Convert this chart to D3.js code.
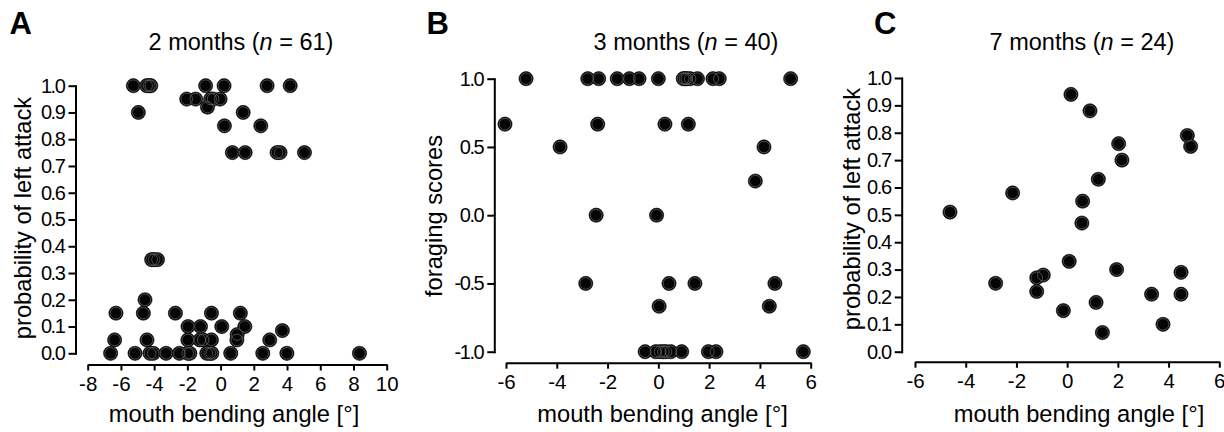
<!DOCTYPE html>
<html>
<head>
<meta charset="utf-8">
<script src="https://cdn.jsdelivr.net/npm/d3@7"></script>
<style>
  html, body { margin: 0; padding: 0; background: #fff; }
  svg { display: block; font-family: "Liberation Sans", Arial, sans-serif; }
  .tick line, .domain { stroke: #000; stroke-width: 2px; }
  .tick text { fill: #000; }
</style>
</head>
<body>
<svg id="chart" width="1224" height="432"></svg>
<script>
// ---------- DATA ----------
const panelLabels = ["A", "B", "C"];
const panelTitles = ["2 months", "3 months", "7 months"];
const panelN = [61, 40, 24];
const xTitle = "mouth bending angle [°]";
const yTitles = ["probability of left attack", "foraging scores", "probability of left attack"];

const xTicksA = [-8, -6, -4, -2, 0, 2, 4, 6, 8, 10];
const yTicksA = [0, 0.1, 0.2, 0.3, 0.4, 0.5, 0.6, 0.7, 0.8, 0.9, 1.0];
const xTicksB = [-6, -4, -2, 0, 2, 4, 6];
const yTicksB = [-1, -0.5, 0, 0.5, 1];
const xTicksC = [-6, -4, -2, 0, 2, 4, 6];
const yTicksC = [0, 0.1, 0.2, 0.3, 0.4, 0.5, 0.6, 0.7, 0.8, 0.9, 1.0];

// Panel A: 2 months (n = 61)
const angleA = [
  -5.25, -4.45, -4.3, -4.2, -0.9, 0.21, 2.8, 4.19,
  -2.04, -1.5, -0.6, -0.45, -0.03,
  -0.79,
  -4.95, 1.36,
  0.23, 2.42,
  0.71, 1.48, 3.4, 3.58, 5.05,
  -4.15, -4.0, -3.8,
  -4.55,
  -6.3, -4.65, -2.72, -0.55, 1.19,
  -1.96, -1.21, 0.07, 1.46,
  3.72,
  1.0,
  -6.38, -4.43, -1.97, -1.25, -1.05, -0.55, 0.98, 2.96,
  -6.62, -5.15, -4.25, -4.05, -3.28, -2.48, -1.98, -1.85, -0.83, -0.65, -0.53, 0.61, 2.54, 3.99, 8.36
];
const probA = [
  1, 1, 1, 1, 1, 1, 1, 1,
  0.95, 0.95, 0.95, 0.95, 0.95,
  0.92,
  0.9, 0.9,
  0.85, 0.85,
  0.75, 0.75, 0.75, 0.75, 0.75,
  0.35, 0.35, 0.35,
  0.2,
  0.15, 0.15, 0.15, 0.15, 0.15,
  0.1, 0.1, 0.1, 0.1,
  0.085,
  0.07,
  0.05, 0.05, 0.05, 0.05, 0.05, 0.05, 0.05, 0.05,
  0, 0, 0, 0, 0, 0, 0, 0, 0, 0, 0, 0, 0, 0, 0
];

// Panel B: 3 months (n = 40)
const angleB = [
  -5.21, -2.78, -2.35, -1.62, -1.14, -0.76, 0.0, 0.98, 1.05, 1.12, 1.25, 1.54, 2.15, 2.40, 5.21,
  -6.04, -2.39, 0.26, 1.18,
  -3.87, 4.16,
  3.82,
  -2.45, -0.07,
  -2.86, 0.42, 1.44, 4.59,
  0.03, 4.37,
  -0.52, -0.10, 0.07, 0.20, 0.30, 0.49, 0.92, 1.97, 2.27, 5.71
];
const scoreB = [
  1, 1, 1, 1, 1, 1, 1, 1, 1, 1, 1, 1, 1, 1, 1,
  0.667, 0.667, 0.667, 0.667,
  0.5, 0.5,
  0.25,
  0, 0,
  -0.5, -0.5, -0.5, -0.5,
  -0.667, -0.667,
  -1, -1, -1, -1, -1, -1, -1, -1, -1, -1
];

// Panel C: 7 months (n = 24)
const angleC = [0.15, 0.90, 2.03, 2.16, 4.74, 4.87, 1.23, -2.15, -4.62, 0.61, 0.58, 0.08,
  1.95, 4.49, -2.82, -1.20, -0.94, -1.20, 1.14, -0.15, 3.33, 4.49, 3.78, 1.39];
const probC = [0.94, 0.88, 0.76, 0.70, 0.79, 0.75, 0.63, 0.58, 0.51, 0.55, 0.47, 0.33,
  0.30, 0.29, 0.25, 0.27, 0.28, 0.22, 0.18, 0.15, 0.21, 0.21, 0.10, 0.07];

// ---------- LAYOUT ----------
const svg = d3.select("#chart");

const panels = [
  { xs: angleA, ys: probA, xTicks: xTicksA, yTicks: yTicksA,
    xDom: [-8, 10], xRange: [87.7, 386.7], yDom: [0, 1], yRange: [353.3, 85.7],
    xAxisY: 364.5, yAxisX: 75.5,
    label: [9.5, 34], titleX: 241, yTitleX: 31, yTitleY: 218, xTitleX: 234 },
  { xs: angleB, ys: scoreB, xTicks: xTicksB, yTicks: yTicksB,
    xDom: [-6, 6], xRange: [506, 810.7], yDom: [-1, 1], yRange: [351.7, 78.7],
    xAxisY: 362.7, yAxisX: 494.3,
    label: [426.5, 34], titleX: 686, yTitleX: 441.5, yTitleY: 216, xTitleX: 662.5 },
  { xs: angleC, ys: probC, xTicks: xTicksC, yTicks: yTicksC,
    xDom: [-6, 6], xRange: [915, 1219.3], yDom: [0, 1], yRange: [351.7, 78],
    xAxisY: 361.7, yAxisX: 901.7,
    label: [874, 34], titleX: 1082, yTitleX: 860, yTitleY: 209, xTitleX: 1079 }
];

panels.forEach((p, i) => {
  const x = d3.scaleLinear().domain(p.xDom).range(p.xRange);
  const y = d3.scaleLinear().domain(p.yDom).range(p.yRange);
  const g = svg.append("g");

  // x axis
  const xa = g.append("g").attr("transform", `translate(0,${p.xAxisY})`)
    .call(d3.axisBottom(x).tickValues(p.xTicks).tickSize(6).tickSizeOuter(0).tickPadding(6)
      .tickFormat(d => String(d)));
  xa.selectAll("text").attr("font-size", 20.5).attr("font-family", "Liberation Sans, Arial, sans-serif");

  // y axis
  const ya = g.append("g").attr("transform", `translate(${p.yAxisX},0)`)
    .call(d3.axisLeft(y).tickValues(p.yTicks).tickSize(6).tickSizeOuter(0).tickPadding(5)
      .tickFormat(d => d.toFixed(1)));
  ya.selectAll("text").attr("font-size", 20).attr("letter-spacing", "-1.4px")
    .attr("font-family", "Liberation Sans, Arial, sans-serif");
  ya.selectAll(".domain, .tick line").attr("stroke-linecap", "square");

  // points
  const pts = p.xs.map((v, k) => [v, p.ys[k]]);
  const dots = g.append("g");
  dots.selectAll("circle.o").data(pts).join("circle").attr("class", "o")
    .attr("cx", d => x(d[0])).attr("cy", d => y(d[1])).attr("r", 7.1)
    .attr("fill", "#050505").attr("stroke", "#000").attr("stroke-width", 0.6);
  dots.selectAll("circle.r").data(pts).join("circle").attr("class", "r")
    .attr("cx", d => x(d[0])).attr("cy", d => y(d[1])).attr("r", 5.8)
    .attr("fill", "none").attr("stroke", "#6a6a6a").attr("stroke-width", 0.7);

  // panel letter
  svg.append("text").attr("x", p.label[0]).attr("y", p.label[1])
    .attr("font-size", 31).attr("font-weight", "bold").attr("fill", "#000")
    .text(panelLabels[i]);

  // title
  const t = svg.append("text").attr("x", p.titleX).attr("y", 50)
    .attr("text-anchor", "middle").attr("font-size", 23.5).attr("fill", "#000");
  t.append("tspan").text(panelTitles[i] + " (");
  t.append("tspan").attr("font-style", "italic").text("n");
  t.append("tspan").text(" = " + panelN[i] + ")");

  // x title
  svg.append("text").attr("x", p.xTitleX).attr("y", 422)
    .attr("text-anchor", "middle").attr("font-size", 23.7).attr("fill", "#000")
    .text(xTitle);

  // y title
  svg.append("text")
    .attr("transform", `translate(${p.yTitleX},${p.yTitleY}) rotate(-90)`)
    .attr("text-anchor", "middle").attr("font-size", 23.7).attr("fill", "#000")
    .text(yTitles[i]);
});
</script>
</body>
</html>
